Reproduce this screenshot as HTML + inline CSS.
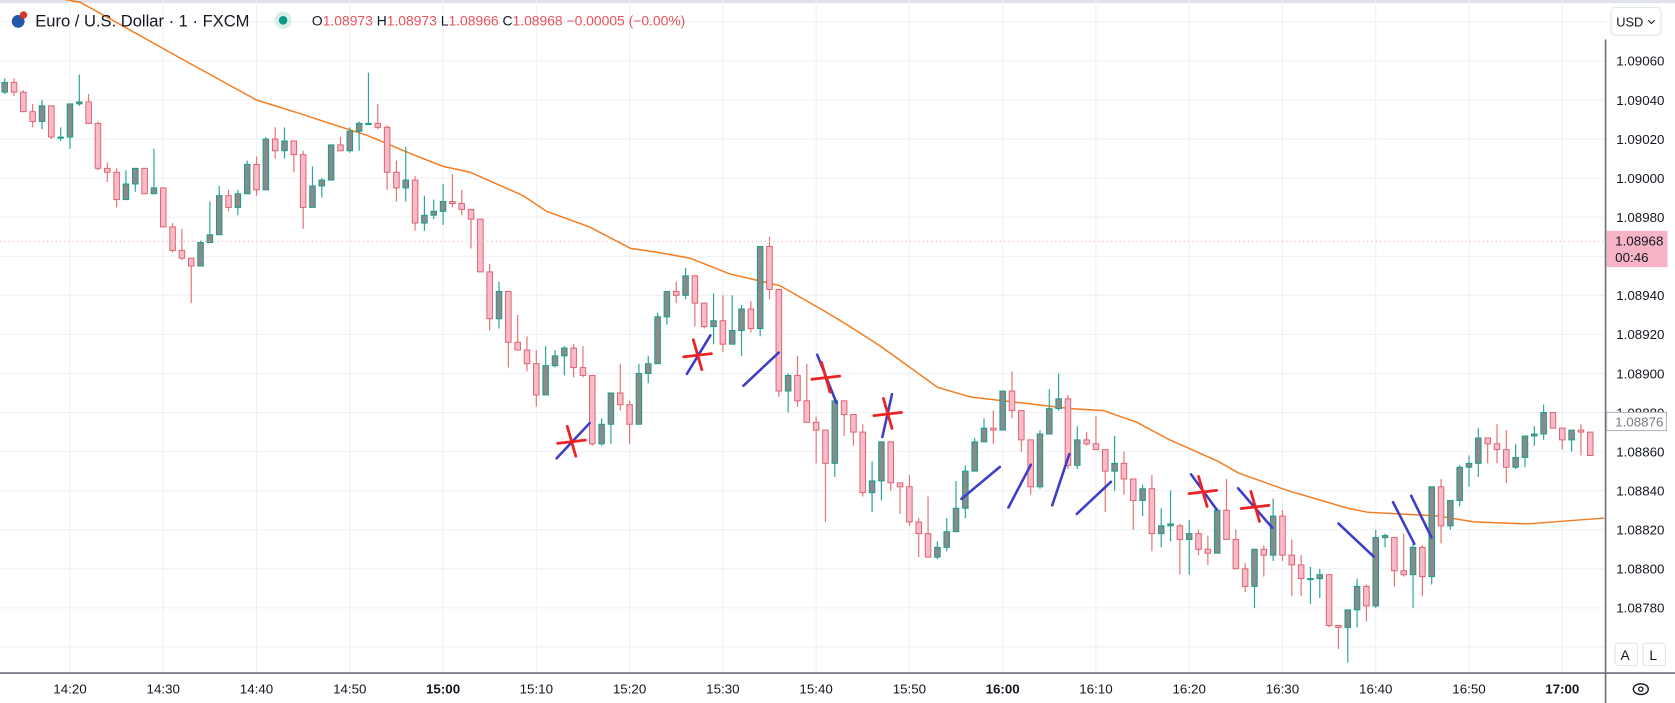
<!DOCTYPE html>
<html><head><meta charset="utf-8"><style>
html,body{margin:0;padding:0;background:#fff;overflow:hidden}
svg{display:block}
text{font-family:"Liberation Sans",sans-serif}
</style></head><body>
<svg id="chart" width="1675" height="703" viewBox="0 0 1568 658" preserveAspectRatio="none" xmlns="http://www.w3.org/2000/svg">
<rect x="0" y="0" width="1568" height="658" fill="#ffffff"/>
<rect x="0" y="0" width="1568" height="3" fill="#e0e3eb"/>
<g id="grid"></g>
<g id="ma"></g>
<g id="candles"></g>
<g id="annot"></g>
<line x1="0" y1="226" x2="1503" y2="226" stroke="#f7a9bd" stroke-width="1" stroke-dasharray="1,3"/>
<g>
  <circle cx="17" cy="20" r="6" fill="#2457a6"/>
  <circle cx="22" cy="14" r="3.5" fill="#d9382e"/>
  <text x="33" y="25" font-size="15.5" fill="#131722">Euro / U.S. Dollar · 1 · FXCM</text>
  <circle cx="265" cy="19" r="8" fill="#d8efe9"/>
  <circle cx="265" cy="19" r="4" fill="#089981"/>
  <text x="292" y="24" font-size="13" fill="#131722">O<tspan fill="#e9525d">1.08973</tspan> H<tspan fill="#e9525d">1.08973</tspan> L<tspan fill="#e9525d">1.08966</tspan> C<tspan fill="#e9525d">1.08968</tspan> <tspan fill="#e9525d">−0.00005 (−0.00%)</tspan></text>
</g>
<g>
  <rect x="1508" y="7" width="47" height="26" rx="4" fill="#fff" stroke="#e0e3eb"/>
  <text x="1513" y="25" font-size="12" fill="#131722">USD</text>
  <path d="M1543 19 l3 3 l3 -3" stroke="#131722" fill="none" stroke-width="1"/>
</g>
<line x1="1503" y1="37" x2="1503" y2="658" stroke="#6a6d78" stroke-width="1.5"/>
<line x1="0" y1="630" x2="1568" y2="630" stroke="#6a6d78" stroke-width="1.5"/>
<g id="yaxis"></g>
<g id="xaxis"></g>
<g>
  <rect x="1504" y="216" width="57" height="34" fill="#f7b4c6"/>
  <text x="1512" y="230" font-size="12.5" fill="#131722">1.08968</text>
  <text x="1512" y="245" font-size="12.5" fill="#131722">00:46</text>
</g>
<g>
  <rect x="1504" y="386" width="56" height="17" fill="#fff" stroke="#b2b5be"/>
  <text x="1512" y="399" font-size="12.5" fill="#787b86">1.08876</text>
</g>
<g>
  <rect x="1512" y="602" width="21" height="21" rx="3" fill="#fff" stroke="#e0e3eb"/>
  <text x="1517" y="618" font-size="13" fill="#131722">A</text>
</g>
<g>
  <rect x="1538" y="602" width="21" height="21" rx="3" fill="#fff" stroke="#e0e3eb"/>
  <text x="1544" y="618" font-size="13" fill="#131722">L</text>
</g>
<g>
  <ellipse cx="1536" cy="645" rx="7" ry="5" fill="none" stroke="#131722" stroke-width="1.3"/>
  <circle cx="1536" cy="645" r="2" fill="none" stroke="#131722" stroke-width="1.2"/>
</g>
</svg>
<script>
const opens=[1.09044,1.09049,1.09044,1.09034,1.09029,1.09037,1.09021,1.09021,1.09038,1.09039,
1.09028,1.09005,1.09003,1.08989,1.08997,1.09005,1.08992,1.08995,1.08975,1.08963,
1.08959,1.08955,1.08967,1.08971,1.08991,1.08985,1.08992,1.09007,1.08994,1.09020,
1.09014,1.09019,
1.09012,1.08985,1.08996,1.08999,1.09017,1.09014,1.09024,1.09028,1.09028,1.09026,
1.09003,1.08995,1.08999,1.08977,1.08981,1.08983,1.08988,1.08987,1.08984,1.08979,
1.08952,1.08928,1.08942,1.08916,1.08912,1.08905,1.08889,1.08904,1.08909,1.08913,
1.08903,
1.08899,1.08864,1.08874,1.08890,1.08884,1.08874,1.08900,1.08905,1.08929,1.08942,
1.08940,1.08950,1.08936,1.08924,1.08927,1.08915,1.08922,1.08933,1.08923,1.08965,
1.08943,1.08891,1.08899,1.08886,1.08875,1.08871,1.08854,1.08886,1.08879,1.08870,
1.08839,
1.08845,1.08865,1.08844,1.08842,1.08824,1.08818,1.08806,1.08811,1.08819,1.08831,
1.08850,1.08865,1.08872,1.08871,1.08891,1.08881,1.08866,1.08842,1.08869,1.08882,
1.08887,1.08853,1.08866,1.08864,1.08861,1.08850,1.08854,1.08846,1.08835,1.08841,
1.08818,
1.08822,1.08822,1.08815,1.08818,1.08810,1.08808,1.08830,1.08815,1.08800,1.08791,
1.08810,1.08807,1.08827,1.08807,1.08802,1.08795,1.08795,1.08797,1.08771,1.08770,
1.08779,1.08791,1.08781,1.08816,1.08816,1.08799,1.08797,1.08811,1.08796,1.08842,
1.08822,
1.08835,1.08852,1.08854,1.08867,1.08864,1.08861,1.08852,1.08857,1.08868,1.08869,
1.08880,1.08872,1.08866,1.08871,1.08870];
const highs=[1.09051,1.09051,1.09045,1.09038,1.09040,1.09037,1.09026,1.09038,1.09053,1.09043,
1.09029,1.09008,1.09005,1.09004,1.09005,1.09005,1.09015,1.08995,1.08977,1.08974,
1.08959,1.08968,1.08988,1.08996,1.08994,1.08994,1.09009,1.09011,1.09021,1.09026,
1.09026,1.09019,
1.09014,1.09006,1.09000,1.09017,1.09021,1.09026,1.09029,1.09054,1.09038,1.09027,
1.09009,1.09016,1.09001,1.08991,1.08989,1.08997,1.09002,1.08994,1.08984,1.08979,
1.08956,1.08947,1.08942,1.08930,1.08919,1.08912,1.08914,1.08912,1.08914,1.08915,
1.08914,
1.08899,1.08877,1.08890,1.08905,1.08886,1.08905,1.08909,1.08931,1.08942,1.08947,
1.08954,1.08950,1.08936,1.08941,1.08940,1.08940,1.08935,1.08937,1.08965,1.08970,
1.08943,1.08900,1.08909,1.08905,1.08878,1.08871,1.08886,1.08886,1.08879,1.08874,
1.08855,
1.08865,1.08865,1.08844,1.08848,1.08826,1.08837,1.08814,1.08826,1.08845,1.08853,
1.08867,1.08877,1.08881,1.08891,1.08901,1.08881,1.08866,1.08871,1.08892,1.08900,
1.08889,1.08873,1.08870,1.08878,1.08861,1.08868,1.08860,1.08846,1.08843,1.08848,
1.08831,
1.08840,1.08823,1.08825,1.08820,1.08817,1.08831,1.08846,1.08820,1.08803,1.08810,
1.08812,1.08836,1.08830,1.08815,1.08807,1.08801,1.08800,1.08797,1.08771,1.08779,
1.08795,1.08792,1.08820,1.08818,1.08816,1.08818,1.08813,1.08812,1.08842,1.08846,
1.08835,
1.08853,1.08858,1.08872,1.08867,1.08874,1.08871,1.08864,1.08868,1.08873,1.08884,
1.08880,1.08872,1.08871,1.08874,1.08870];
const lows=[1.09043,1.09042,1.09034,1.09026,1.09025,1.09020,1.09019,1.09015,1.09037,1.09028,
1.09004,1.08998,1.08985,1.08989,1.08993,1.08992,1.08992,1.08975,1.08962,1.08958,
1.08936,1.08955,1.08967,1.08971,1.08983,1.08981,1.08992,1.08991,1.08994,1.09010,
1.09010,1.09003,
1.08974,1.08985,1.08990,1.08999,1.09014,1.09013,1.09014,1.09028,1.09025,1.08994,
1.08988,1.08988,1.08973,1.08973,1.08979,1.08976,1.08985,1.08981,1.08964,1.08952,
1.08922,1.08923,1.08903,1.08912,1.08901,1.08883,1.08889,1.08903,1.08899,1.08898,
1.08898,
1.08863,1.08863,1.08864,1.08881,1.08864,1.08874,1.08895,1.08905,1.08925,1.08936,
1.08938,1.08924,1.08923,1.08915,1.08911,1.08915,1.08909,1.08921,1.08919,1.08938,
1.08888,1.08880,1.08883,1.08875,1.08854,1.08824,1.08847,1.08868,1.08863,1.08837,
1.08829,
1.08835,1.08840,1.08828,1.08822,1.08806,1.08806,1.08805,1.08809,1.08819,1.08826,
1.08850,1.08865,1.08864,1.08871,1.08877,1.08860,1.08838,1.08841,1.08869,1.08881,
1.08851,1.08851,1.08863,1.08861,1.08829,1.08840,1.08838,1.08820,1.08827,1.08809,
1.08811,
1.08814,1.08797,1.08797,1.08807,1.08802,1.08808,1.08815,1.08800,1.08788,1.08780,
1.08796,1.08804,1.08804,1.08786,1.08786,1.08782,1.08785,1.08770,1.08759,1.08752,
1.08770,1.08773,1.08780,1.08811,1.08791,1.08796,1.08780,1.08786,1.08792,1.08813,
1.08820,
1.08832,1.08842,1.08847,1.08854,1.08854,1.08844,1.08851,1.08852,1.08863,1.08866,
1.08872,1.08861,1.08860,1.08858,1.08858];
const closes=[1.09049,1.09044,1.09034,1.09029,1.09037,1.09021,1.09021,1.09038,1.09039,1.09028,
1.09005,1.09003,1.08989,1.08997,1.09005,1.08992,1.08995,1.08975,1.08963,1.08959,
1.08955,1.08967,1.08971,1.08991,1.08985,1.08992,1.09007,1.08994,1.09020,1.09014,
1.09019,1.09012,
1.08985,1.08996,1.08999,1.09017,1.09014,1.09024,1.09028,1.09028,1.09026,1.09003,
1.08995,1.08999,1.08977,1.08981,1.08983,1.08988,1.08987,1.08984,1.08979,1.08952,
1.08928,1.08942,1.08916,1.08912,1.08905,1.08889,1.08904,1.08909,1.08913,1.08903,
1.08899,
1.08864,1.08874,1.08890,1.08884,1.08874,1.08900,1.08905,1.08929,1.08942,1.08940,
1.08950,1.08936,1.08924,1.08927,1.08915,1.08922,1.08933,1.08923,1.08965,1.08943,
1.08891,1.08899,1.08886,1.08875,1.08871,1.08854,1.08886,1.08879,1.08870,1.08839,
1.08845,
1.08865,1.08844,1.08842,1.08824,1.08818,1.08806,1.08811,1.08819,1.08831,1.08850,
1.08865,1.08872,1.08871,1.08891,1.08881,1.08866,1.08842,1.08869,1.08882,1.08887,
1.08853,1.08866,1.08864,1.08861,1.08850,1.08854,1.08846,1.08835,1.08841,1.08818,
1.08822,
1.08823,1.08815,1.08818,1.08810,1.08808,1.08830,1.08815,1.08800,1.08791,1.08810,
1.08807,1.08827,1.08807,1.08802,1.08795,1.08795,1.08797,1.08771,1.08770,1.08779,
1.08791,1.08781,1.08816,1.08817,1.08799,1.08797,1.08811,1.08796,1.08842,1.08822,
1.08835,
1.08852,1.08854,1.08867,1.08864,1.08861,1.08852,1.08857,1.08868,1.08869,1.08880,
1.08872,1.08866,1.08871,1.08870,1.08858];
const maIndex=[0,8.1,19,27,31.7,34.2,38.8,43.8,47,49.9,55.6,58.1,62.7,67.1,70,73.5,77.7,83.1,87.5,90.3,93.9,100,103.5,107.1,114.3,117.8,121.4,124.9,130.1,132.3,137.6,144,146.1,153.7,157.5,163.2,171.5];
const maValues=[1.09097,1.0909,1.09061,1.0904,1.09033,1.09029,1.09022,1.09012,1.09006,1.09003,1.08991,1.08983,1.08975,1.08964,1.08962,1.08959,1.08951,1.08945,1.08933,1.08925,1.08914,1.08893,1.08888,1.08886,1.08882,1.08881,1.08875,1.08866,1.08855,1.08849,1.0884,1.08831,1.08829,1.08827,1.08824,1.08823,1.08826];
const priceTicks=[1.0906,1.0904,1.0902,1.09,1.0898,1.0896,1.0894,1.0892,1.089,1.0888,1.0886,1.0884,1.0882,1.088,1.0878];
const timeTicks=["14:20","14:30","14:40","14:50","15:00","15:10","15:20","15:30","15:40","15:50","16:00","16:10","16:20","16:30","16:40","16:50","17:00"];
const timeTickMinutes=[7,17,27,37,47,57,67,77,87,97,107,117,127,137,147,157,167];
const boldTicks=["15:00","16:00","17:00"];

const NS="http://www.w3.org/2000/svg";
function yScale(p){return 57+(1.0906-p)/0.0002*36.57;}
function xScale(i){return 4.4+i*8.731;}
function mk(tag,attrs,parent){const e=document.createElementNS(NS,tag);for(const k in attrs)e.setAttribute(k,attrs[k]);parent.appendChild(e);return e;}

const grid=document.getElementById('grid');
for(let p=1.0908;p>=1.0876-1e-9;p-=0.0002){
  const y=yScale(p);
  const l=mk('line',{x1:0,x2:1503,y1:y,y2:y,stroke:'#edf1f6','stroke-width':1},grid);
  
  
}
timeTickMinutes.forEach(m=>{
  const x=xScale(m);
  const l=mk('line',{x1:x,x2:x,y1:0,y2:630,stroke:'#edf1f6','stroke-width':1},grid);
  
  
});

const ya=document.getElementById('yaxis');
priceTicks.forEach(p=>{
  const t=mk('text',{x:1513,y:yScale(p)+4.5,'font-size':12.5,fill:'#131722'},ya);
  t.textContent=p.toFixed(5);
  
  
});
const xa=document.getElementById('xaxis');
timeTicks.forEach((lab,k)=>{
  const t=mk('text',{x:xScale(timeTickMinutes[k]),y:649,'font-size':12.5,fill:'#131722','text-anchor':'middle','font-weight':boldTicks.includes(lab)?'bold':'normal'},xa);
  t.textContent=lab;
  
  
});

const ma=document.getElementById('ma');
const pts=maIndex.map((i,k)=>xScale(i).toFixed(1)+','+yScale(maValues[k]).toFixed(1)).join(' ');
const pl=mk('polyline',{points:pts,fill:'none',stroke:'#f57c20','stroke-width':1.4},ma);



const cg=document.getElementById('candles');
for(let i=0;i<opens.length;i++){
  const o=opens[i],c=closes[i],h=highs[i],l=lows[i];
  const up=c>=o;
  const x=xScale(i);
  const g=mk('g',{},cg);
  
  
  mk('line',{x1:x,x2:x,y1:yScale(h),y2:yScale(l),stroke:up?'#26a69a':'#e57373','stroke-width':1.1},g);
  const top=yScale(Math.max(o,c)),bot=yScale(Math.min(o,c));
  mk('rect',{x:x-2.6,y:top,width:5.2,height:Math.max(bot-top,1),fill:up?'#8a8a8a':'#f8bbcb',stroke:up?'#139e8a':'#e0606b','stroke-width':0.9},g);
}

const an=document.getElementById('annot');
const blueLines=[[521,429,552,396],[643,350,665,314],[696,361,729,330],[765,332,783,377],[826,409,835,369],[900,467,936,437],[944,475,965,435],[985,473,1001,425],[1008,481,1040,451],[1115,444,1139,477],[1159,457,1191,494],[1253,490,1286,521],[1304,470,1324,509],[1321,464,1340,503]];
blueLines.forEach(b=>{
  const l=mk('line',{x1:b[0],y1:b[1],x2:b[2],y2:b[3],stroke:'#3d3dc8','stroke-width':2.4,'stroke-linecap':'round'},an);
  
  
});
const stars=[[535,413],[653,332],[773,353],[831,387],[1126,460],[1175,474]];
stars.forEach(s=>{
  const g=mk('g',{stroke:'#ee2222','stroke-width':2.6,'stroke-linecap':'round'},an);
  
  
  mk('line',{x1:s[0]-13,y1:s[1]+2,x2:s[0]+13,y2:s[1]-1},g);
  mk('line',{x1:s[0]-4,y1:s[1]-14,x2:s[0]+4,y2:s[1]+14},g);
});
</script>
</body></html>
